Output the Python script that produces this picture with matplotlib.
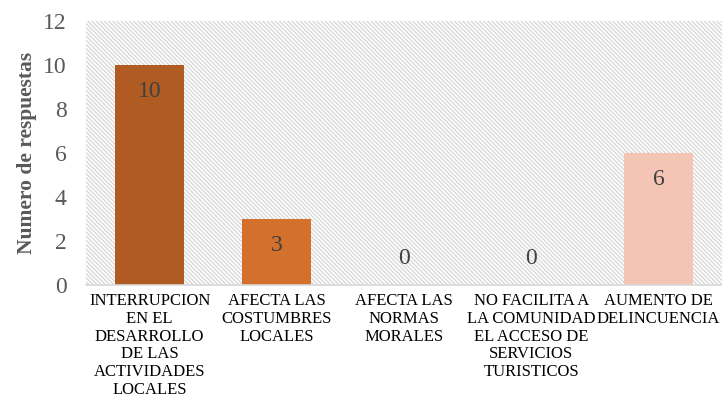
import matplotlib
matplotlib.use('Agg')
import matplotlib.pyplot as plt
from matplotlib.patches import Rectangle

categories = ['INTERRUPCION\nEN EL\nDESARROLLO\nDE LAS\nACTIVIDADES\nLOCALES',
              'AFECTA LAS\nCOSTUMBRES\nLOCALES',
              'AFECTA LAS\nNORMAS\nMORALES',
              'NO FACILITA A\nLA COMUNIDAD\nEL ACCESO DE\nSERVICIOS\nTURISTICOS',
              'AUMENTO DE\nDELINCUENCIA']
values = [10, 3, 0, 0, 6]
colors = ['#B05B22', '#D2702C', '#D2702C', '#D2702C', '#F4C5B5']

plt.rcParams['font.family'] = 'Liberation Serif'
plt.rcParams['hatch.color'] = '#D6D6D6'
plt.rcParams['hatch.linewidth'] = 0.9

fig = plt.figure(figsize=(7.22, 4.01), dpi=100)
ax = fig.add_axes([86/722, 1 - 285/401, 636/722, 264/401])

# hatched background
ax.add_patch(Rectangle((0, 0), 1, 1, transform=ax.transAxes, facecolor='white',
                       edgecolor='#D6D6D6', hatch='\\' * 8, linewidth=0, zorder=0))

x = range(len(values))
bars = ax.bar(x, values, width=0.54, color=colors, zorder=2)
for i, v in enumerate(values):
    ypos = v - 1.2 if v > 1 else v + 1.2
    ax.text(i, ypos, str(v), ha='center', va='center', fontsize=17, color='#404040', zorder=3)

ax.set_xlim(-0.5, 4.5)
ax.set_ylim(0, 12)
ax.set_yticks(range(0, 13, 2))
ax.tick_params(axis='y', labelsize=17, colors='#595959', length=0, pad=14)

# category labels, centred lines
ax.set_xticks([])
trans = ax.get_xaxis_transform()
for i, lab in enumerate(categories):
    ax.text(i, -0.03, lab, transform=trans, ha='center', va='top', multialignment='center',
            fontsize=12, linespacing=1.15, color='black')

for s in ['top', 'right', 'left']:
    ax.spines[s].set_visible(False)
ax.spines['bottom'].set_color('#D9D9D9')
ax.spines['bottom'].set_linewidth(1.2)

ax.set_ylabel('Numero de respuestas', fontsize=15.5, fontweight='bold', color='#595959', labelpad=4)

plt.savefig('out.png', dpi=100)
